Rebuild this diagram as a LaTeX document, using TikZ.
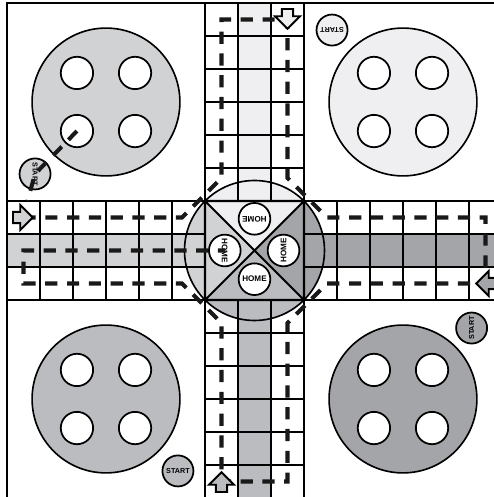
\documentclass[tikz,border=0pt]{standalone}
\usepackage{fontspec}
\newfontfamily\boardfont{Liberation Sans}
\usetikzlibrary{calc}
\definecolor{westgrey}{HTML}{D1D2D4}
\definecolor{northgrey}{HTML}{EFEFF1}
\definecolor{eastgrey}{HTML}{A4A5A8}
\definecolor{southgrey}{HTML}{BBBCBF}
\tikzset{
  board/.style={line width=1.8pt},
  cellgrid/.style={line width=1.8pt},
  yard/.style={line width=1.4pt},
  hole/.style={draw, line width=1.5pt, fill=white},
  track/.style={line width=3.5pt, dash pattern=on 3.7mm off 2.9mm, black!90},
  homespot/.style={draw, circle, line width=1.5pt, fill=white, minimum size=9.6mm, inner sep=0pt, font=\boardfont\bfseries\fontsize{7}{7}\selectfont},
  startspot/.style={draw, circle, line width=1.5pt, minimum size=9.4mm, inner sep=0pt, font=\boardfont\bfseries\fontsize{6.2}{6.2}\selectfont},
  entry/.style={draw, line width=1.6pt}
}
\newcommand{\entryarrow}[4]{%
  \draw[entry, fill=#4, shift={(#1,#2)}, rotate=#3] (0,0) -- (-0.38,0.38) -- (-0.38,0.17) -- (-0.6,0.17) -- (-0.6,-0.17) -- (-0.38,-0.17) -- (-0.38,-0.38) -- cycle;}

\begin{document}
\begin{tikzpicture}
    \useasboundingbox (-0.212,0.03) rectangle (14.758,15.091);
    \clip (-0.212,0.03) rectangle (14.758,15.091);
    \fill[white] (-0.212,0.03) rectangle (14.758,15.091);

    \foreach \cx/\cy/\col in {3/12/westgrey, 12/12/northgrey, 3/3/southgrey, 12/3/eastgrey} {
      \draw[yard, fill=\col] (\cx,\cy) circle (2.24);
      \foreach \dx/\dy in {-0.88/-0.88, -0.88/0.88, 0.88/-0.88, 0.88/0.88}
        \draw[hole] (\cx+\dx,\cy+\dy) circle (0.49);
    }

    \fill[westgrey] (0,7) rectangle (6,8);
    \fill[northgrey] (7,9) rectangle (8,15);
    \fill[eastgrey] (9,7) rectangle (15,8);
    \fill[southgrey] (7,0) rectangle (8,6);

    \foreach \a/\col in {45/northgrey, 135/westgrey, 225/southgrey, 315/eastgrey}
      \fill[\col] (7.5,7.5) -- ++(\a:2.121) arc[start angle=\a, delta angle=90, radius=2.121] -- cycle;

    \draw[cellgrid] (0,6) grid (6,9) (9,6) grid (15,9) (6,0) grid (9,6) (6,9) grid (9,15);
    \draw[board] (0,0) rectangle (15,15);
    \draw[cellgrid] (6,6) rectangle (9,9) (6,6) -- (9,9) (6,9) -- (9,6);
    \draw[yard] (7.5,7.5) circle (2.121);

    \node[homespot, rotate=180] (homeN) at (7.5,8.46) {HOME};
    \node[homespot, rotate=-90] (homeW) at (6.6,7.5) {HOME};
    \node[homespot, rotate=90] (homeE) at (8.38,7.5) {HOME};
    \node[homespot] (homeS) at (7.5,6.63) {HOME};

    \draw[track] (0.5,8.5) -- (5.3,8.5) -- (6.5,9.7) -- (6.5,14.5) -- (8.5,14.5) -- (8.5,9.7)
      -- (9.7,8.5) -- (14.5,8.5) -- (14.5,6.5) -- (9.7,6.5) -- (8.5,5.3) -- (8.5,0.5)
      -- (6.5,0.5) -- (6.5,5.3) -- (5.3,6.5) -- (0.5,6.5) -- (0.5,7.5) -- (homeW.center);

    \entryarrow{0.78}{8.5}{0}{westgrey}
    \entryarrow{8.5}{14.22}{-90}{northgrey}
    \entryarrow{14.22}{6.5}{180}{eastgrey}
    \entryarrow{6.5}{0.78}{90}{southgrey}

    \node[startspot, fill=westgrey, rotate=-90] (startW) at (0.85,9.82) {START};
    \node[startspot, fill=northgrey, rotate=180] (startN) at (9.85,14.18) {START};
    \node[startspot, fill=eastgrey, rotate=90] (startE) at (14.08,5.15) {START};
    \node[startspot, fill=southgrey] (startS) at (5.18,0.82) {START};

    \draw[track] (2.12,11.12) -- (startW.center) -- (0.62,9.0);
\end{tikzpicture}
\end{document}
